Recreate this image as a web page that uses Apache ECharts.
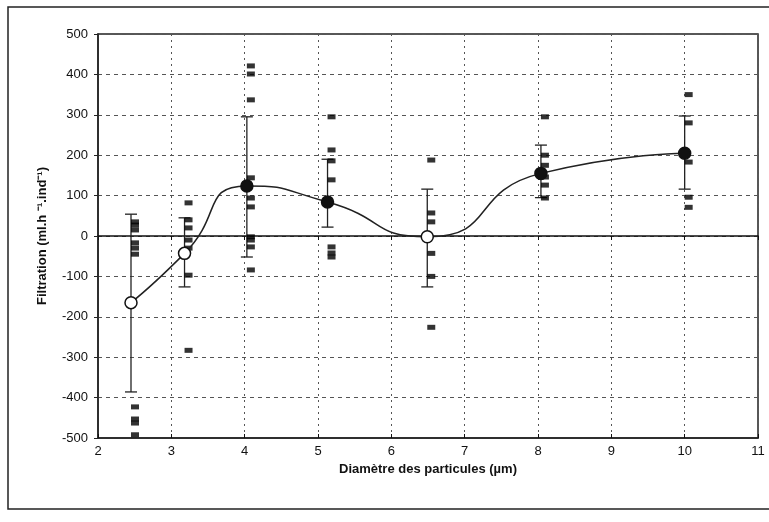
<!DOCTYPE html>
<html>
<head>
<meta charset="utf-8">
<script src="https://cdn.jsdelivr.net/npm/echarts@6/dist/echarts.min.js"></script>
<style>
html,body{margin:0;padding:0;background:#fff;}
#chart{width:769px;height:522px;}
</style>
</head>
<body>
<div id="chart"></div>
<script>
// ---- data ----
const xPositions = [2.45, 3.18, 4.03, 5.13, 6.49, 8.04, 10.0];
const meanValues = [-165, -43, 124, 84, -2, 155, 205];
const errorHigh  = [54, 45, 295, 190, 116, 225, 297];
const errorLow   = [-386, -126, -52, 22, -126, 95, 116];
const openMarker = [true, true, false, false, true, false, false];

const obsAt245 = [35, 27, 15, -17, -30, -45, -423, -453, -463, -492];
const obsAt318 = [82, 40, 20, -10, -30, -97, -283];
const obsAt403 = [421, 401, 337, 144, 94, 72, -2, -10, -27, -84];
const obsAt513 = [295, 213, 186, 139, -27, -42, -52];
const obsAt649 = [188, 57, 35, -43, -100, -226];
const obsAt804 = [295, 200, 175, 146, 126, 94];
const obsAt1000 = [350, 280, 183, 96, 71];
const observations = [obsAt245, obsAt318, obsAt403, obsAt513, obsAt649, obsAt804, obsAt1000];

const xTicks = [2, 3, 4, 5, 6, 7, 8, 9, 10, 11];
const yTicks = [-500, -400, -300, -200, -100, 0, 100, 200, 300, 400, 500];

const xTitle = 'Diamètre des particules (µm)';
const yTitle = 'Filtration (ml.h ⁻¹.ind⁻¹)';

// ---- build chart ----
const FONT = '"Liberation Sans", Arial, sans-serif';
const chart = echarts.init(document.getElementById('chart'), null, {renderer: 'canvas'});

const scatterData = [];
observations.forEach((arr, i) => arr.forEach(v => scatterData.push([xPositions[i], v])));

const errData = xPositions.map((x, i) => [x, errorLow[i], errorHigh[i]]);

const meanData = xPositions.map((x, i) => ({
  value: [x, meanValues[i]],
  itemStyle: {color: openMarker[i] ? '#ffffff' : '#111111', borderColor: '#111111', borderWidth: 1.5}
}));

const xMin = xTicks[0], xMax = xTicks[xTicks.length - 1];
const yMin = yTicks[0], yMax = yTicks[yTicks.length - 1];

chart.setOption({
  animation: false,
  backgroundColor: '#ffffff',
  grid: {left: 98, right: 11, top: 34, bottom: 84, show: true, borderColor: '#222', borderWidth: 1.5, backgroundColor: 'transparent'},
  graphic: [{
    type: 'rect', z: -1,
    shape: {x: 8, y: 7, width: 770, height: 502},
    style: {fill: 'none', stroke: '#222', lineWidth: 1.5}
  }],
  xAxis: [{
    type: 'value', min: xMin, max: xMax, interval: 1, position: 'bottom',
    axisLine: {show: true, onZero: true, lineStyle: {color: '#111', width: 1.5}},
    axisTick: {show: true, length: 4, lineStyle: {color: '#111', width: 1}},
    axisLabel: {show: false},
    splitLine: {show: true, lineStyle: {color: '#555', type: [2, 4], width: 1}}
  }, {
    type: 'value', min: xMin, max: xMax, interval: 1, position: 'bottom',
    axisLine: {show: true, onZero: false, lineStyle: {color: '#222', width: 1.5}},
    axisTick: {show: false},
    axisLabel: {show: true, margin: 7, fontFamily: FONT, fontSize: 13, color: '#111'},
    splitLine: {show: false},
    name: xTitle, nameLocation: 'middle', nameGap: 18,
    nameTextStyle: {fontFamily: FONT, fontSize: 13, fontWeight: 'bold', color: '#111'}
  }, {
    type: 'value', min: xMin, max: xMax, interval: 1, position: 'bottom',
    axisLine: {show: false, onZero: true},
    axisTick: {show: true, inside: true, length: 4, lineStyle: {color: '#111', width: 1}},
    axisLabel: {show: false},
    splitLine: {show: false}
  }],
  yAxis: {
    type: 'value', min: yMin, max: yMax, interval: 100,
    axisLine: {show: true, lineStyle: {color: '#222', width: 1.5}},
    axisTick: {show: true, length: 4, lineStyle: {color: '#222'}},
    axisLabel: {margin: 10, fontFamily: FONT, fontSize: 13, color: '#111'},
    splitLine: {show: true, lineStyle: {color: '#555', type: [4, 4], width: 1}},
    name: yTitle, nameLocation: 'middle', nameGap: 49,
    nameTextStyle: {fontFamily: FONT, fontSize: 13, fontWeight: 'bold', color: '#111'}
  },
  series: [{
    type: 'custom',
    xAxisIndex: 0,
    z: 3,
    data: errData,
    encode: {x: 0, y: [1, 2]},
    renderItem: function (params, api) {
      const x = api.value(0);
      const lo = api.coord([x, api.value(1)]);
      const hi = api.coord([x, api.value(2)]);
      const cap = 6;
      const st = {stroke: '#222', lineWidth: 1.3};
      return {
        type: 'group',
        children: [
          {type: 'line', shape: {x1: lo[0], y1: lo[1], x2: hi[0], y2: hi[1]}, style: st},
          {type: 'line', shape: {x1: lo[0] - cap, y1: lo[1], x2: lo[0] + cap, y2: lo[1]}, style: st},
          {type: 'line', shape: {x1: hi[0] - cap, y1: hi[1], x2: hi[0] + cap, y2: hi[1]}, style: st}
        ]
      };
    }
  }, {
    type: 'scatter',
    xAxisIndex: 0,
    z: 4,
    data: scatterData,
    symbol: 'rect',
    symbolSize: [8, 5],
    symbolOffset: [4, 0],
    itemStyle: {color: '#000'}
  }, {
    type: 'line',
    xAxisIndex: 0,
    z: 5,
    data: meanData,
    smooth: 0.6,
    symbol: 'circle',
    symbolSize: 12,
    showAllSymbol: true,
    lineStyle: {color: '#222', width: 1.5},
    itemStyle: {color: '#111', borderColor: '#111', borderWidth: 1.5}
  }]
});
</script>
</body>
</html>
